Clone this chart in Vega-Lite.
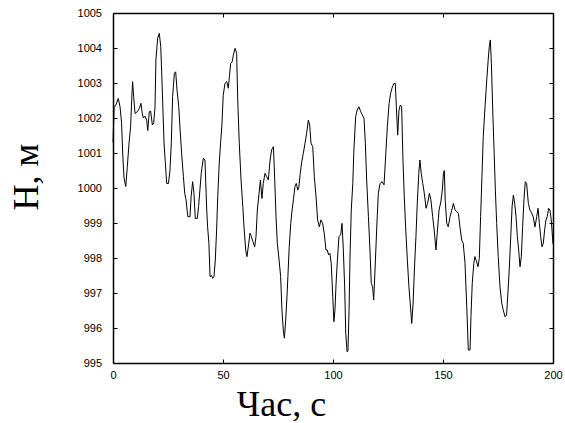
{
  "$schema": "https://vega.github.io/schema/vega-lite/v6.json",
  "width": 440,
  "height": 350,
  "autosize": {"type": "none"},
  "padding": {"left": 113, "top": 13, "right": 12, "bottom": 60},
  "background": "white",
  "config": {
    "view": {"stroke": null},
    "axis": {
      "domainColor": "black",
      "domainWidth": 1.5,
      "tickColor": "black",
      "tickSize": -4,
      "tickWidth": 1,
      "grid": false,
      "labelFont": "Liberation Sans",
      "labelFontSize": 11,
      "labelColor": "black",
      "labelOverlap": false,
      "labelFlush": false,
      "titleFont": "Liberation Serif",
      "titleFontSize": 36,
      "titleFontWeight": "normal",
      "titleColor": "black"
    }
  },
  "data": {"values": [
    {"t":0,"h":1001.3},{"t":0.5,"h":1002.3},{"t":1.5,"h":1002.4},{"t":2.4,"h":1002.56},{"t":3.2,"h":1002.32},{"t":3.9,"h":1001.86},{"t":4.4,"h":1001.0},{"t":5.0,"h":1000.29},{"t":5.8,"h":1000.04},{"t":6.5,"h":1000.61},{"t":7.3,"h":1001.29},{"t":8.0,"h":1001.75},{"t":8.5,"h":1002.51},{"t":8.9,"h":1003.04},{"t":9.4,"h":1002.61},{"t":10.0,"h":1002.13},{"t":11.05,"h":1002.18},{"t":12.0,"h":1002.28},{"t":12.7,"h":1002.42},{"t":13.3,"h":1002.13},{"t":13.8,"h":1002.0},{"t":14.5,"h":1002.05},{"t":15.3,"h":1001.94},{"t":15.8,"h":1001.64},{"t":16.5,"h":1002.18},{"t":17.1,"h":1002.2},{"t":17.9,"h":1001.8},{"t":18.5,"h":1001.86},{"t":19.1,"h":1002.32},{"t":19.5,"h":1003.66},{"t":20.3,"h":1004.28},{"t":21.05,"h":1004.42},{"t":21.7,"h":1004.04},{"t":22.1,"h":1003.37},{"t":22.6,"h":1002.42},{"t":23.2,"h":1001.28},{"t":23.8,"h":1000.71},{"t":24.4,"h":1000.13},{"t":25.2,"h":1000.13},{"t":25.9,"h":1000.51},{"t":26.5,"h":1001.28},{"t":27.1,"h":1002.61},{"t":27.9,"h":1003.28},{"t":28.5,"h":1003.32},{"t":29.1,"h":1002.8},{"t":29.9,"h":1002.32},{"t":30.5,"h":1001.66},{"t":31.2,"h":1000.99},{"t":32.0,"h":1000.32},{"t":32.6,"h":999.85},{"t":33.2,"h":999.66},{"t":34.0,"h":999.18},{"t":35.0,"h":999.18},{"t":35.5,"h":999.75},{"t":36.2,"h":1000.18},{"t":36.8,"h":999.85},{"t":37.4,"h":999.13},{"t":38.3,"h":999.13},{"t":38.9,"h":999.47},{"t":39.5,"h":999.94},{"t":40.1,"h":1000.42},{"t":41.05,"h":1000.85},{"t":41.8,"h":1000.8},{"t":42.6,"h":999.37},{"t":43.0,"h":998.89},{"t":43.6,"h":998.42},{"t":44.1,"h":997.47},{"t":44.8,"h":997.5},{"t":45.3,"h":997.42},{"t":45.9,"h":997.47},{"t":46.5,"h":997.94},{"t":47.1,"h":998.8},{"t":47.6,"h":999.75},{"t":48.3,"h":1000.71},{"t":48.9,"h":1001.28},{"t":49.5,"h":1001.8},{"t":50.1,"h":1002.65},{"t":50.9,"h":1002.99},{"t":51.7,"h":1003.04},{"t":52.4,"h":1002.85},{"t":52.9,"h":1003.18},{"t":53.5,"h":1003.56},{"t":54.2,"h":1003.61},{"t":54.7,"h":1003.8},{"t":55.5,"h":1003.99},{"t":56.2,"h":1003.85},{"t":56.7,"h":1002.51},{"t":57.4,"h":1001.28},{"t":58.2,"h":1000.23},{"t":59.0,"h":999.47},{"t":59.5,"h":998.94},{"t":60.3,"h":998.23},{"t":60.9,"h":998.04},{"t":61.7,"h":998.42},{"t":62.3,"h":998.71},{"t":62.9,"h":998.61},{"t":63.6,"h":998.47},{"t":64.4,"h":998.32},{"t":65.0,"h":998.61},{"t":65.6,"h":999.37},{"t":66.4,"h":999.85},{"t":67.0,"h":1000.23},{"t":67.7,"h":999.7},{"t":68.3,"h":1000.13},{"t":69.1,"h":1000.42},{"t":69.9,"h":1000.32},{"t":70.6,"h":1000.23},{"t":71.4,"h":1000.8},{"t":72.1,"h":1001.09},{"t":72.9,"h":1001.18},{"t":73.3,"h":1000.61},{"t":74.1,"h":999.18},{"t":74.7,"h":998.42},{"t":75.5,"h":997.94},{"t":76.2,"h":997.47},{"t":76.8,"h":996.51},{"t":77.4,"h":995.94},{"t":77.9,"h":995.71},{"t":78.5,"h":996.23},{"t":79.0,"h":996.8},{"t":79.5,"h":997.47},{"t":80.1,"h":998.32},{"t":80.8,"h":998.99},{"t":81.4,"h":999.37},{"t":82.0,"h":999.66},{"t":82.7,"h":1000.04},{"t":83.3,"h":1000.13},{"t":84.0,"h":999.94},{"t":84.5,"h":1000.04},{"t":85.1,"h":1000.42},{"t":85.8,"h":1000.75},{"t":86.5,"h":1000.99},{"t":87.3,"h":1001.28},{"t":88.0,"h":1001.56},{"t":88.8,"h":1001.94},{"t":89.4,"h":1001.8},{"t":90.0,"h":1001.28},{"t":90.8,"h":1001.18},{"t":91.5,"h":1000.32},{"t":92.3,"h":999.75},{"t":93.0,"h":999.09},{"t":93.8,"h":998.89},{"t":94.5,"h":999.09},{"t":95.3,"h":998.99},{"t":96.0,"h":998.71},{"t":96.8,"h":998.23},{"t":97.4,"h":998.23},{"t":98.0,"h":998.09},{"t":98.6,"h":998.13},{"t":99.2,"h":997.85},{"t":99.9,"h":996.9},{"t":100.4,"h":996.18},{"t":100.9,"h":996.51},{"t":101.4,"h":997.28},{"t":102.0,"h":997.94},{"t":102.7,"h":998.61},{"t":103.5,"h":998.66},{"t":104.1,"h":998.99},{"t":104.7,"h":998.23},{"t":105.3,"h":997.18},{"t":105.8,"h":995.85},{"t":106.4,"h":995.32},{"t":106.8,"h":995.35},{"t":107.3,"h":996.51},{"t":107.7,"h":997.94},{"t":108.3,"h":999.37},{"t":109.0,"h":1000.13},{"t":109.5,"h":1001.09},{"t":110.3,"h":1002.04},{"t":111.0,"h":1002.23},{"t":111.8,"h":1002.32},{"t":112.6,"h":1002.18},{"t":113.3,"h":1002.09},{"t":114.1,"h":1001.99},{"t":114.7,"h":1001.28},{"t":115.3,"h":1000.23},{"t":116.1,"h":999.18},{"t":116.8,"h":998.23},{"t":117.4,"h":997.28},{"t":118.0,"h":997.18},{"t":118.5,"h":996.8},{"t":119.1,"h":997.66},{"t":119.9,"h":998.89},{"t":120.6,"h":999.85},{"t":121.4,"h":1000.13},{"t":122.3,"h":1000.18},{"t":123.2,"h":1000.09},{"t":124.0,"h":1000.99},{"t":124.7,"h":1001.75},{"t":125.5,"h":1002.42},{"t":126.2,"h":1002.71},{"t":127.0,"h":1002.89},{"t":127.7,"h":1002.99},{"t":128.3,"h":1002.99},{"t":128.8,"h":1002.32},{"t":129.4,"h":1001.51},{"t":130.0,"h":1002.23},{"t":130.6,"h":1002.37},{"t":131.2,"h":1002.32},{"t":131.8,"h":1000.8},{"t":132.4,"h":999.75},{"t":133.0,"h":998.89},{"t":133.8,"h":997.94},{"t":134.5,"h":997.18},{"t":135.1,"h":996.71},{"t":135.8,"h":996.13},{"t":136.4,"h":996.71},{"t":137.0,"h":997.66},{"t":137.7,"h":998.61},{"t":138.3,"h":999.56},{"t":139.0,"h":1000.42},{"t":139.5,"h":1000.8},{"t":140.1,"h":1000.42},{"t":140.8,"h":1000.13},{"t":141.5,"h":999.85},{"t":142.3,"h":999.42},{"t":143.0,"h":999.56},{"t":143.8,"h":999.85},{"t":144.5,"h":999.66},{"t":145.3,"h":999.18},{"t":146.0,"h":998.8},{"t":146.8,"h":998.23},{"t":147.4,"h":998.71},{"t":148.2,"h":999.37},{"t":149.0,"h":999.6},{"t":149.7,"h":999.94},{"t":150.2,"h":1000.42},{"t":150.6,"h":1000.5},{"t":151.0,"h":999.66},{"t":151.7,"h":998.99},{"t":152.4,"h":998.89},{"t":153.2,"h":999.18},{"t":154.0,"h":999.37},{"t":154.7,"h":999.56},{"t":155.5,"h":999.37},{"t":156.2,"h":999.32},{"t":157.0,"h":999.28},{"t":157.7,"h":998.89},{"t":158.5,"h":998.51},{"t":159.2,"h":998.42},{"t":160.0,"h":997.85},{"t":160.8,"h":996.61},{"t":161.5,"h":995.37},{"t":162.3,"h":995.37},{"t":162.7,"h":996.32},{"t":163.3,"h":997.28},{"t":164.0,"h":997.85},{"t":164.5,"h":998.04},{"t":165.3,"h":997.89},{"t":165.9,"h":997.75},{"t":166.5,"h":997.99},{"t":167.1,"h":999.18},{"t":167.7,"h":1000.32},{"t":168.3,"h":1001.47},{"t":169.1,"h":1002.32},{"t":169.9,"h":1003.09},{"t":170.6,"h":1003.71},{"t":171.05,"h":1004.04},{"t":171.5,"h":1004.23},{"t":172.0,"h":1003.56},{"t":172.6,"h":1002.23},{"t":173.2,"h":1001.09},{"t":173.8,"h":999.94},{"t":174.4,"h":998.99},{"t":175.1,"h":998.04},{"t":175.9,"h":997.18},{"t":176.7,"h":996.71},{"t":177.4,"h":996.51},{"t":178.2,"h":996.32},{"t":178.9,"h":996.37},{"t":179.5,"h":996.99},{"t":180.1,"h":997.66},{"t":180.8,"h":998.61},{"t":181.4,"h":999.47},{"t":182.0,"h":999.8},{"t":182.6,"h":999.56},{"t":183.2,"h":999.18},{"t":183.8,"h":998.61},{"t":184.4,"h":998.23},{"t":185.0,"h":997.75},{"t":185.6,"h":998.04},{"t":186.2,"h":998.89},{"t":186.8,"h":999.66},{"t":187.4,"h":1000.18},{"t":188.0,"h":1000.13},{"t":188.8,"h":999.56},{"t":189.5,"h":999.37},{"t":190.3,"h":999.28},{"t":191.0,"h":999.18},{"t":191.8,"h":998.89},{"t":192.6,"h":999.18},{"t":193.2,"h":999.42},{"t":193.8,"h":998.99},{"t":194.4,"h":998.61},{"t":195.0,"h":998.32},{"t":195.6,"h":998.42},{"t":196.2,"h":998.8},{"t":196.8,"h":999.09},{"t":197.4,"h":999.18},{"t":198.0,"h":999.42},{"t":198.6,"h":999.37},{"t":199.2,"h":999.09},{"t":200.0,"h":998.4}
  ]},
  "layer": [
    {
      "mark": {"type": "line", "color": "black", "strokeWidth": 1},
      "encoding": {
        "x": {"field": "t", "type": "quantitative", "scale": {"domain": [0, 200], "nice": false},
          "axis": {"orient": "bottom", "values": [0, 50, 100, 150, 200], "format": "d", "labelPadding": 10,
            "title": "Час, с", "titleX": 168, "titleY": 52, "titleAlign": "center", "titleBaseline": "alphabetic", "titleAngle": 0}},
        "y": {"field": "h", "type": "quantitative", "scale": {"domain": [995, 1005], "nice": false, "zero": false},
          "axis": {"orient": "left", "values": [995, 996, 997, 998, 999, 1000, 1001, 1002, 1003, 1004, 1005], "format": "d", "labelPadding": 15.5,
            "title": "Н, м", "titleX": -76, "titleY": 197, "titleAngle": -90, "titleAlign": "left", "titleBaseline": "alphabetic"}}
      }
    },
    {
      "mark": {"type": "line", "color": "black", "strokeWidth": 1, "opacity": 0},
      "encoding": {
        "x": {"field": "t", "type": "quantitative", "scale": {"domain": [0, 200], "nice": false},
          "axis": {"orient": "top", "values": [0, 50, 100, 150, 200], "labels": false, "title": null}},
        "y": {"field": "h", "type": "quantitative", "scale": {"domain": [995, 1005], "nice": false, "zero": false},
          "axis": {"orient": "right", "values": [995, 996, 997, 998, 999, 1000, 1001, 1002, 1003, 1004, 1005], "labels": false, "title": null}}
      }
    }
  ],
  "resolve": {"axis": {"x": "independent", "y": "independent"}}
}
